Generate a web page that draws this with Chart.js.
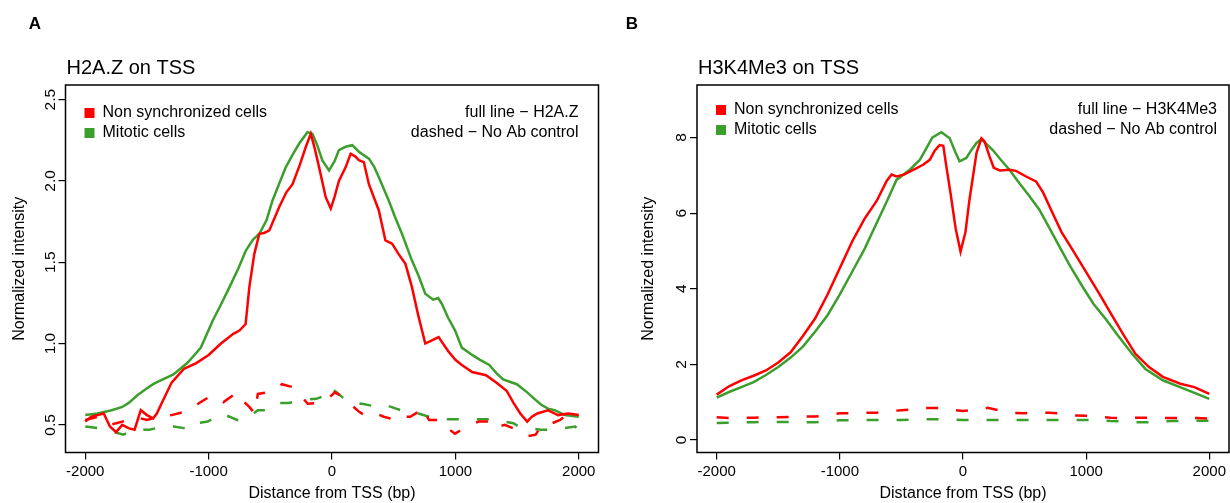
<!DOCTYPE html>
<html>
<head>
<meta charset="utf-8">
<script src="https://cdn.jsdelivr.net/npm/chart.js@4.4.0/dist/chart.umd.min.js"></script>
<style>
html, body { margin: 0; padding: 0; background: #fff; }
#wrap { position: relative; width: 1230px; height: 503px; overflow: hidden; }
.panel { position: absolute; top: 0; width: 615px; height: 503px; }
</style>
</head>
<body>
<div id="wrap">
  <div class="panel" style="left:0"><canvas id="chartA" width="615" height="503"></canvas></div>
  <div class="panel" style="left:615px"><canvas id="chartB" width="615" height="503"></canvas></div>
</div>
<script>
// profiles around the TSS ([bp, normalized intensity])

var xTicks = [-2000, -1000, 0, 1000, 2000];

// A - H2A.Z
var aYTicks = [0.5, 1.0, 1.5, 2.0, 2.5];
var aYTickLabels = ['0.5', '1.0', '1.5', '2.0', '2.5'];

var aNonSyncFull = [[-2000,0.52],[-1950,0.55],[-1900,0.56],[-1850,0.57],[-1800,0.49],[-1750,0.455],[-1700,0.50],[-1650,0.48],[-1600,0.47],[-1550,0.59],[-1500,0.56],[-1450,0.54],[-1420,0.57],[-1370,0.65],[-1300,0.76],[-1200,0.845],[-1100,0.88],[-1000,0.93],[-900,1.0],[-800,1.06],[-750,1.08],[-700,1.12],[-670,1.347],[-630,1.55],[-589,1.675],[-550,1.68],[-508,1.696],[-428,1.84],[-370,1.93],[-320,1.98],[-260,2.10],[-212,2.21],[-172,2.29],[-140,2.20],[-105,2.085],[-51,1.90],[-10,1.83],[20,1.90],[56,2.0],[111,2.085],[151,2.167],[190,2.15],[218,2.127],[258,2.116],[299,1.98],[379,1.82],[433,1.634],[487,1.614],[540,1.55],[595,1.49],[648,1.347],[700,1.17],[756,1.0],[810,1.02],[864,1.04],[942,0.953],[1000,0.90],[1052,0.868],[1136,0.825],[1248,0.805],[1331,0.76],[1415,0.71],[1471,0.635],[1526,0.57],[1582,0.52],[1620,0.55],[1665,0.57],[1749,0.59],[1832,0.56],[1915,0.57],[2000,0.56]];
var aMitoticFull = [[-2000,0.56],[-1900,0.57],[-1786,0.59],[-1700,0.61],[-1647,0.635],[-1580,0.68],[-1508,0.72],[-1450,0.75],[-1397,0.77],[-1285,0.81],[-1174,0.88],[-1154,0.896],[-1063,0.975],[-966,1.142],[-900,1.24],[-831,1.347],[-760,1.46],[-697,1.573],[-640,1.64],[-589,1.675],[-530,1.76],[-482,1.88],[-430,1.98],[-374,2.085],[-320,2.16],[-266,2.23],[-199,2.30],[-159,2.29],[-120,2.22],[-78,2.126],[-24,2.065],[20,2.12],[56,2.19],[110,2.21],[164,2.22],[218,2.18],[299,2.137],[340,2.09],[379,2.024],[420,1.95],[460,1.88],[510,1.78],[567,1.675],[648,1.51],[700,1.42],[756,1.306],[820,1.27],[860,1.28],[890,1.245],[940,1.16],[998,1.08],[1052,0.975],[1136,0.93],[1200,0.90],[1275,0.868],[1330,0.82],[1387,0.78],[1440,0.765],[1498,0.75],[1582,0.70],[1640,0.66],[1693,0.625],[1750,0.60],[1805,0.59],[1888,0.56],[2000,0.55]];
var aNonSyncNoAb = [[-2000,0.53],[-1900,0.55],[-1800,0.50],[-1700,0.52],[-1600,0.55],[-1500,0.53],[-1400,0.55],[-1300,0.56],[-1200,0.58],[-1146,0.59],[-1076,0.635],[-1000,0.67],[-950,0.68],[-880,0.64],[-767,0.70],[-711,0.64],[-670,0.61],[-627,0.57],[-601,0.69],[-517,0.70],[-461,0.71],[-406,0.75],[-308,0.73],[-252,0.68],[-197,0.63],[-114,0.635],[-47,0.65],[23,0.70],[92,0.67],[147,0.63],[220,0.58],[287,0.55],[357,0.57],[420,0.55],[468,0.54],[509,0.52],[592,0.55],[634,0.55],[700,0.58],[731,0.61],[786,0.53],[870,0.53],[913,0.48],[954,0.47],[996,0.445],[1070,0.48],[1149,0.51],[1191,0.52],[1275,0.52],[1300,0.48],[1400,0.50],[1500,0.47],[1582,0.43],[1651,0.44],[1700,0.50],[1750,0.50],[1850,0.53],[1915,0.57],[1971,0.57],[2000,0.56]];
var aMitoticNoAb = [[-2000,0.49],[-1900,0.48],[-1786,0.46],[-1690,0.44],[-1600,0.47],[-1480,0.47],[-1369,0.49],[-1285,0.49],[-1200,0.48],[-1160,0.47],[-1104,0.51],[-1007,0.52],[-896,0.57],[-830,0.55],[-770,0.53],[-700,0.53],[-601,0.59],[-503,0.59],[-433,0.635],[-350,0.635],[-210,0.655],[-127,0.66],[-60,0.68],[-19,0.73],[37,0.70],[100,0.66],[162,0.63],[245,0.63],[370,0.61],[440,0.62],[520,0.60],[592,0.58],[634,0.58],[700,0.57],[786,0.55],[856,0.535],[950,0.535],[1038,0.535],[1108,0.535],[1247,0.535],[1317,0.535],[1400,0.52],[1470,0.51],[1512,0.49],[1600,0.48],[1693,0.47],[1776,0.47],[1880,0.48],[1971,0.49],[2000,0.47]];

// B - H3K4Me3
var bYTicks = [0, 2, 4, 6, 8];
var bYTickLabels = ['0', '2', '4', '6', '8'];

var bNonSyncFull = [[-2000,1.20],[-1900,1.42],[-1800,1.58],[-1700,1.70],[-1600,1.84],[-1500,2.05],[-1400,2.32],[-1300,2.75],[-1200,3.22],[-1100,3.85],[-1000,4.55],[-900,5.25],[-800,5.85],[-700,6.33],[-620,6.85],[-580,7.02],[-540,6.97],[-480,7.02],[-432,7.10],[-324,7.28],[-270,7.41],[-230,7.65],[-190,7.80],[-160,7.78],[-135,7.23],[-100,6.50],[-60,5.60],[-20,4.98],[20,5.50],[50,6.30],[81,6.97],[110,7.60],[150,7.98],[175,7.90],[215,7.50],[250,7.20],[300,7.13],[377,7.15],[430,7.12],[512,6.97],[593,6.84],[650,6.55],[728,6.0],[800,5.50],[890,5.03],[1000,4.44],[1105,3.88],[1200,3.35],[1300,2.80],[1400,2.28],[1510,1.93],[1623,1.67],[1765,1.49],[1879,1.40],[2000,1.22]];
var bMitoticFull = [[-2000,1.12],[-1900,1.27],[-1800,1.40],[-1700,1.53],[-1600,1.72],[-1500,1.93],[-1400,2.18],[-1300,2.47],[-1200,2.87],[-1100,3.30],[-1000,3.85],[-900,4.45],[-800,5.05],[-701,5.74],[-620,6.30],[-540,6.88],[-432,7.15],[-351,7.41],[-300,7.70],[-250,8.00],[-176,8.14],[-108,7.98],[-60,7.60],[-28,7.37],[27,7.46],[70,7.68],[108,7.85],[148,7.96],[200,7.80],[242,7.67],[310,7.40],[377,7.15],[458,6.79],[540,6.45],[620,6.09],[700,5.62],[782,5.12],[870,4.60],[970,4.06],[1060,3.60],[1159,3.20],[1250,2.80],[1368,2.30],[1481,1.88],[1623,1.58],[1793,1.36],[1900,1.22],[2000,1.09]];
var bNonSyncNoAb = [[-2000,0.60],[-1900,0.58],[-1800,0.59],[-1700,0.59],[-1600,0.60],[-1500,0.60],[-1400,0.61],[-1300,0.62],[-1200,0.62],[-1100,0.66],[-1000,0.71],[-900,0.71],[-800,0.72],[-700,0.72],[-600,0.76],[-500,0.79],[-400,0.81],[-300,0.85],[-200,0.85],[-100,0.80],[0,0.77],[100,0.80],[200,0.85],[300,0.78],[400,0.72],[500,0.71],[600,0.72],[700,0.72],[800,0.70],[900,0.65],[1000,0.64],[1100,0.61],[1200,0.59],[1300,0.58],[1400,0.59],[1500,0.59],[1600,0.58],[1700,0.58],[1800,0.58],[1900,0.58],[2000,0.57]];
var bMitoticNoAb = [[-2000,0.45],[-1900,0.46],[-1800,0.47],[-1700,0.47],[-1600,0.48],[-1500,0.48],[-1400,0.48],[-1300,0.47],[-1200,0.47],[-1100,0.50],[-1000,0.52],[-900,0.52],[-800,0.53],[-700,0.53],[-600,0.53],[-500,0.53],[-400,0.54],[-300,0.55],[-200,0.55],[-100,0.54],[0,0.53],[100,0.53],[200,0.53],[300,0.53],[400,0.53],[500,0.53],[600,0.53],[700,0.53],[800,0.53],[900,0.53],[1000,0.53],[1100,0.52],[1200,0.50],[1300,0.49],[1400,0.47],[1500,0.47],[1600,0.49],[1700,0.50],[1800,0.51],[1900,0.51],[2000,0.51]];

var RED = '#ff0000';
var GREEN = '#3c9f2d';
var FONT = '"Liberation Sans", Arial, Helvetica, sans-serif';

function pts(list){
    return list.map(function(p){ return {x: p[0], y: p[1]}; });
}

function line(label, list, color, dashed){
    return {
        label: label,
        data: pts(list),
        borderColor: color,
        backgroundColor: color,
        borderWidth: 2.5,
        borderDash: dashed ? [12, 18] : [],
        pointRadius: 0,
        tension: 0,
        fill: false
    };
}

// box, titles, rotated y tick labels and the legend (R style)
var panelText = {
    id: 'panelText',
    afterDraw: function(chart, args, o){
        var ctx = chart.ctx, area = chart.chartArea;
        ctx.save();
        ctx.strokeStyle = '#000';
        ctx.lineWidth = 1.5;
        ctx.strokeRect(area.left, area.top, area.right - area.left, area.bottom - area.top);

        ctx.fillStyle = '#000';
        ctx.textBaseline = 'middle';
        ctx.font = 'bold 17px ' + FONT;
        ctx.textAlign = 'center';
        ctx.fillText(o.letter, o.letterX, 24);

        ctx.font = '20px ' + FONT;
        ctx.textAlign = 'left';
        ctx.fillText(o.title, area.left + 1, 68);

        var ys = chart.scales.y;
        ctx.font = '15.5px ' + FONT;
        ctx.textAlign = 'center';
        o.yLabels.forEach(function(txt, i){
            var py = ys.getPixelForValue(o.yTicks[i]);
            ctx.save();
            ctx.translate(area.left - 15, py);
            ctx.rotate(-Math.PI / 2);
            ctx.fillText(txt, 0, 0);
            ctx.restore();
        });

        ctx.font = '16px ' + FONT;
        for (var i = 0; i < 2; i++){
            var ds = chart.data.datasets[i];
            var y = o.legendY[i];
            ctx.fillStyle = ds.borderColor;
            ctx.fillRect(area.left + 24 - 5, y - 5, 10, 10);
            ctx.fillStyle = '#000';
            ctx.textAlign = 'left';
            ctx.fillText(ds.label, area.left + 37, y);
            ctx.textAlign = 'right';
            ctx.fillText(o.notes[i], area.right - o.noteInset, y);
        }
        ctx.restore();
    }
};

function makeChart(id, sets, yMin, yMax, yTicks, yLabels, yAxisW, rightPad, yTitlePad, text){
    text.yTicks = yTicks;
    text.yLabels = yLabels;
    return new Chart(document.getElementById(id), {
        type: 'line',
        data: { datasets: sets },
        options: {
            responsive: false,
            animation: false,
            devicePixelRatio: 1,
            layout: { padding: { left: 0, top: 85, right: rightPad, bottom: 0 } },
            plugins: { legend: { display: false }, tooltip: { enabled: false }, panelText: text },
            scales: {
                x: {
                    type: 'linear', min: -2160, max: 2160,
                    afterBuildTicks: function(s){ s.ticks = xTicks.map(function(v){ return {value: v}; }); },
                    afterFit: function(s){ s.height = 50.5; },
                    grid: { drawOnChartArea: false, drawTicks: true, tickLength: 7, color: '#000', lineWidth: 1.2 },
                    border: { display: false },
                    ticks: { color: '#000', padding: 3, maxRotation: 0, font: { family: FONT, size: 15 },
                             callback: function(v){ return String(v); } },
                    title: { display: true, text: 'Distance from TSS (bp)', color: '#000',
                             font: { family: FONT, size: 16 }, padding: { top: 0, bottom: 0 } }
                },
                y: {
                    type: 'linear', min: yMin, max: yMax,
                    afterBuildTicks: function(s){ s.ticks = yTicks.map(function(v){ return {value: v}; }); },
                    afterFit: function(s){ s.width = yAxisW; },
                    grid: { drawOnChartArea: false, drawTicks: true, tickLength: 7, color: '#000', lineWidth: 1.2 },
                    border: { display: false },
                    ticks: { display: false },
                    title: { display: true, text: 'Normalized intensity', color: '#000',
                             font: { family: FONT, size: 16 }, padding: { top: yTitlePad, bottom: 0 } }
                }
            }
        },
        plugins: [panelText]
    });
}

makeChart('chartA', [
    line('Non synchronized cells', aNonSyncFull, RED, false),
    line('Mitotic cells', aMitoticFull, GREEN, false),
    line('Non synchronized cells (No Ab)', aNonSyncNoAb, RED, true),
    line('Mitotic cells (No Ab)', aMitoticNoAb, GREEN, true)
], 0.33, 2.59, aYTicks, aYTickLabels, 65.5, 16.5, 10.4, {
    letter: 'A', letterX: 35, title: 'H2A.Z on TSS',
    legendY: [113, 133], noteInset: 20,
    notes: ['full line \u2212 H2A.Z', 'dashed \u2212 No Ab control']
});

makeChart('chartB', [
    line('Non synchronized cells', bNonSyncFull, RED, false),
    line('Mitotic cells', bMitoticFull, GREEN, false),
    line('Non synchronized cells (No Ab)', bNonSyncNoAb, RED, true),
    line('Mitotic cells (No Ab)', bMitoticNoAb, GREEN, true)
], -0.33, 9.39, bYTicks, bYTickLabels, 82, 1, 24, {
    letter: 'B', letterX: 17, title: 'H3K4Me3 on TSS',
    legendY: [110, 130], noteInset: 12,
    notes: ['full line \u2212 H3K4Me3', 'dashed \u2212 No Ab control']
});
</script>
</body>
</html>
